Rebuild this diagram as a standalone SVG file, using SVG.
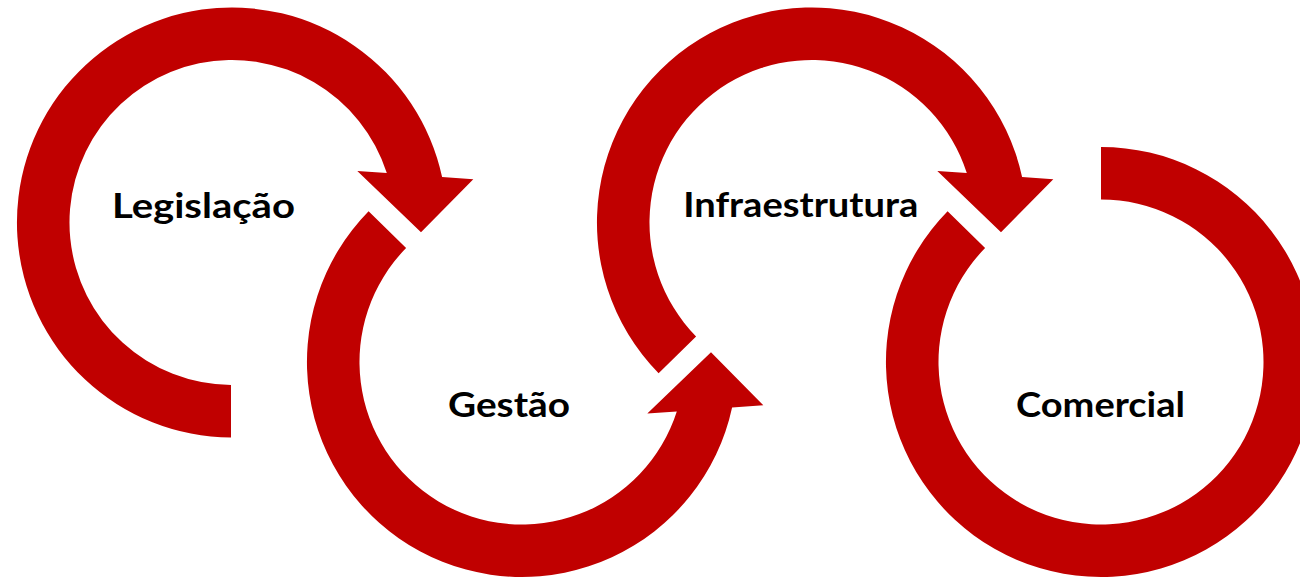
<svg xmlns="http://www.w3.org/2000/svg" width="1300" height="578" viewBox="0 0 1300 578">
<style>
.arr{fill:#C00000;stroke:none}
.lbl{font-family:"Lato","Liberation Sans",sans-serif;font-weight:bold;font-size:35px;fill:#000;text-anchor:middle}
</style>
<rect width="1300" height="578" fill="#fff"/>
<g id="connectors">
<path id="arrow-legislacao" class="arr" d="M231,437.5 A215,215 0 1 1 442.1,177.1 L473.3,179.3 L421,232.3 L357.3,171 L386.8,173.1 A162.5,162.5 0 1 0 231,385 Z"/>
<path id="arrow-gestao" class="arr" d="M368.6,211.3 A215,215 0 1 0 732.1,407.4 L763.3,405.2 L711,352.2 L647.3,413.5 L676.8,411.4 A162.5,162.5 0 1 1 406.1,248.1 Z"/>
<path id="arrow-infra" class="arr" d="M658.6,373.2 A215,215 0 1 1 1022.1,177.1 L1053.3,179.3 L1001,232.3 L937.3,171 L966.8,173.1 A162.5,162.5 0 1 0 696.1,336.4 Z"/>
<path id="arrow-comercial" class="arr" d="M947.6,211.3 A215,215 0 1 0 1101,147 L1101,199.5 A162.5,162.5 0 1 1 985.1,248.1 Z"/>
</g>
<g id="node-legislacao"><text class="lbl" x="203.4" y="218.3" textLength="183" lengthAdjust="spacingAndGlyphs">Legislação</text></g>
<g id="node-gestao"><text class="lbl" x="509" y="416.7" textLength="122" lengthAdjust="spacingAndGlyphs">Gestão</text></g>
<g id="node-infraestrutura"><text class="lbl" x="800.8" y="216.7" textLength="235" lengthAdjust="spacingAndGlyphs">Infraestrutura</text></g>
<g id="node-comercial"><text class="lbl" x="1100.5" y="416.7" textLength="169" lengthAdjust="spacingAndGlyphs">Comercial</text></g>
</svg>
